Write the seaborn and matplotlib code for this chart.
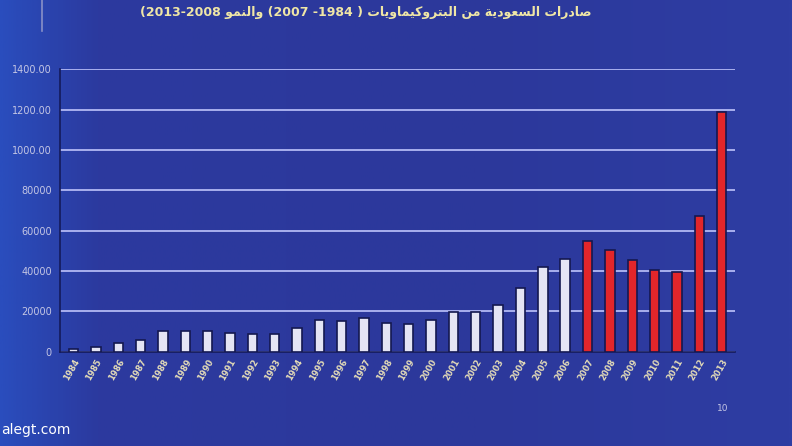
import numpy as np
import pandas as pd
import seaborn as sns
import matplotlib.pyplot as plt
from matplotlib.colors import LinearSegmentedColormap

# data
years = [str(y) for y in range(1984, 2014)]
exports = [1500, 2500, 4500, 6000, 10200, 10200, 10200, 9300, 8800, 8800,
           12000, 15800, 15300, 16800, 14300, 13800, 15800, 19800, 19800, 23200,
           31600, 42000, 46000, 54800, 50400, 45400, 40500, 39500, 67200, 118600]
period = ['1984-2006'] * 23 + ['2007-2013'] * 7
ytick_vals = [0, 20000, 40000, 60000, 80000, 100000, 120000, 140000]
ytick_labels = ['0', '20000', '40000', '60000', '80000', '1000.00', '1200.00', '1400.00']

df = pd.DataFrame({'year': years, 'exports': exports, 'period': period})

# simple arabic shaping (matplotlib has no bidi / joining)
FORMS = {
    'ا': ('\ufe8d', '\ufe8e', None, None),
    'ب': ('\ufe8f', '\ufe90', '\ufe91', '\ufe92'),
    'ة': ('\ufe93', '\ufe94', None, None),
    'ت': ('\ufe95', '\ufe96', '\ufe97', '\ufe98'),
    'د': ('\ufea9', '\ufeaa', None, None),
    'ر': ('\ufead', '\ufeae', None, None),
    'س': ('\ufeb1', '\ufeb2', '\ufeb3', '\ufeb4'),
    'ص': ('\ufeb9', '\ufeba', '\ufebb', '\ufebc'),
    'ع': ('\ufec9', '\ufeca', '\ufecb', '\ufecc'),
    'ك': ('\ufed9', '\ufeda', '\ufedb', '\ufedc'),
    'ل': ('\ufedd', '\ufede', '\ufedf', '\ufee0'),
    'م': ('\ufee1', '\ufee2', '\ufee3', '\ufee4'),
    'ن': ('\ufee5', '\ufee6', '\ufee7', '\ufee8'),
    'و': ('\ufeed', '\ufeee', None, None),
    'ي': ('\ufef1', '\ufef2', '\ufef3', '\ufef4'),
}


def shape(word):
    out = []
    for i, ch in enumerate(word):
        iso, fin, ini, med = FORMS[ch]
        prev_joins = i > 0 and FORMS[word[i - 1]][2] is not None
        next_joins = i < len(word) - 1 and ini is not None
        if prev_joins and next_joins:
            out.append(med)
        elif prev_joins:
            out.append(fin)
        elif next_joins:
            out.append(ini)
        else:
            out.append(iso)
    return ''.join(reversed(out))


title = ' '.join(['(2013-2008', shape('والنمو'), '(2007 -1984 )',
                  shape('البتروكيماويات'), shape('من'), shape('السعودية'), shape('صادرات')])

fig = plt.figure(figsize=(7.92, 4.46), dpi=100)

# background gradient
bg = fig.add_axes([0, 0, 1, 1])
bg_cmap = LinearSegmentedColormap.from_list('bg', [(0, '#2a4dbd'), (0.05, '#2a45b0'),
                                                   (0.12, '#2c3a9f'), (0.6, '#2c389b'),
                                                   (1, '#2e3da3')])
bg.imshow(np.linspace(0, 1, 400)[None, :], aspect='auto', cmap=bg_cmap, extent=[0, 1, 0, 1])
bg.axis('off')
bg.plot([0.053, 0.053], [0.93, 1.0], color='#8890c8', lw=1.2)

ax = fig.add_axes([0.076, 0.211, 0.852, 0.634])
ax.set_facecolor('none')
sns.barplot(data=df, x='year', y='exports', hue='period',
            palette={'1984-2006': '#e4e4f4', '2007-2013': '#e2262a'},
            saturation=1, dodge=False, width=0.42, edgecolor='#141850', linewidth=1.2,
            legend=False, ax=ax, zorder=3)

ax.set_ylim(0, 140000)
ax.set_xlim(-0.6, 29.6)
ax.set_yticks(ytick_vals)
ax.set_yticklabels(ytick_labels, color='#c4c6e4', fontsize=7)
ax.yaxis.grid(True, color='#a9b0ee', lw=1.4, zorder=0)
ax.set_axisbelow(True)
ax.tick_params(axis='y', length=0, pad=6)
ax.tick_params(axis='x', length=0, pad=4)
plt.setp(ax.get_xticklabels(), rotation=60, ha='right', rotation_mode='anchor',
         color='#e4dcb8', fontsize=6, fontweight='bold')
ax.set_xlabel('')
ax.set_ylabel('')
for s in ['top', 'right']:
    ax.spines[s].set_visible(False)
ax.spines['left'].set_color('#141a5a')
ax.spines['bottom'].set_color('#141a5a')
ax.spines['left'].set_linewidth(1.2)
ax.spines['bottom'].set_linewidth(1.2)

fig.text(0.462, 0.972, title, ha='center', va='center', fontsize=9,
         fontweight='bold', color='#efe6a6', family=['DejaVu Sans'])
fig.text(0.912, 0.085, '10', ha='center', va='center', fontsize=6.5, color='#c4c6e4')
fig.text(0.002, 0.02, 'alegt.com', ha='left', va='bottom', fontsize=10, color='white')

fig.savefig('out.png', dpi=100)
